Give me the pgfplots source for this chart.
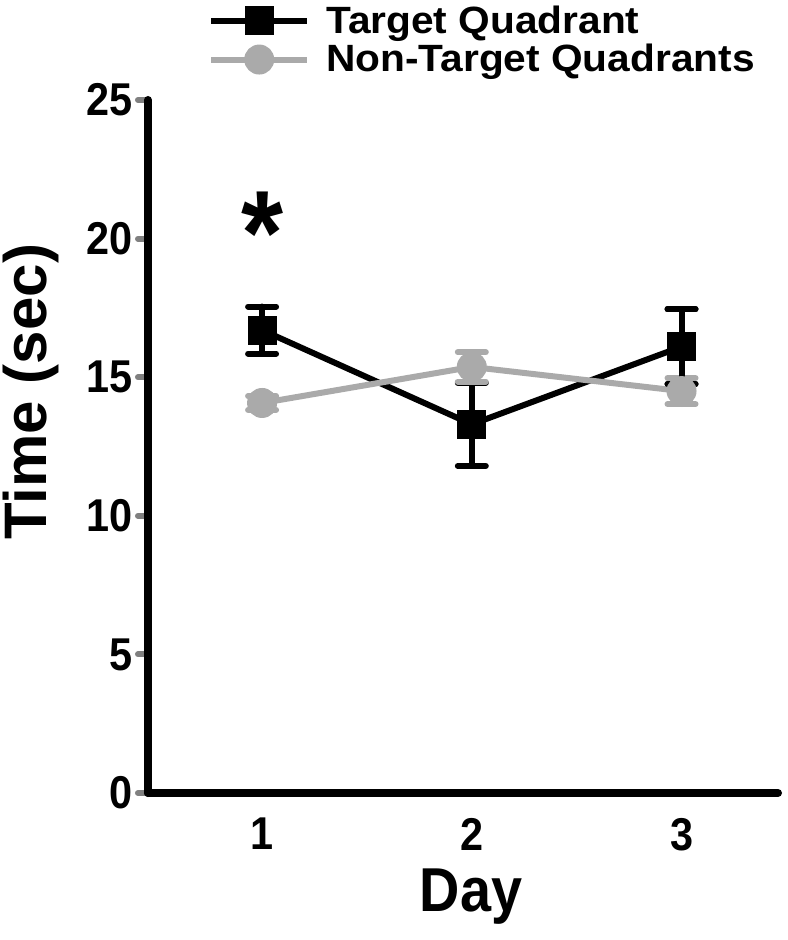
\documentclass[border=0pt]{standalone}
\usepackage{fontspec}
\setmainfont{Liberation Sans}[FakeStretch=0.9]
\newfontfamily\ylabfont{Liberation Sans}
\newfontfamily\legfont{Liberation Sans}[FakeStretch=1.07]
\usepackage{pgfplots}
\pgfplotsset{compat=1.18}
\definecolor{ngray}{RGB}{170,170,170}
\begin{document}
\begin{tikzpicture}
\begin{axis}[
  scale only axis,
  width=315pt, height=346.5pt,
  xmin=0.456, xmax=3.46,
  ymin=0, ymax=25,
  axis x line=bottom, axis y line=left,
  axis line style={-, line width=4pt, line cap=round},
  xtick={1,2,3},
  xtick style={draw=none},
  ytick={0,5,10,15,20,25},
  ytick style={line width=3pt, line cap=round},
  tick align=outside,
  major tick length=5pt,
  /pgf/number format/assume math mode=true,
  ticklabel style={font=\fontsize{23}{23}\selectfont\bfseries},
  yticklabel style={xshift=1pt},
  xticklabel style={yshift=-4pt},
  xlabel={Day},
  xlabel style={font=\fontsize{31}{31}\selectfont\bfseries, xshift=4pt, yshift=-2pt},
  ylabel={Time (sec)},
  ylabel style={font=\fontsize{30}{30}\ylabfont\bfseries, at={(rel axis cs:-0.185,0.579)}, anchor=center},
  clip=false,
  legend style={draw=none, fill=none, at={(rel axis cs:0.095,1.03)}, anchor=south west,
    font=\fontsize{19}{19}\legfont\bfseries, row sep=0pt, inner sep=0pt, cells={anchor=west}},
  legend image code/.code={%
    \draw[mark repeat=2, mark phase=2, #1] plot coordinates {(0pt,0pt) (24pt,0pt) (48pt,0pt)};
    \path (54pt,0pt);},
  legend cell align=left,
]
\addplot[black, line width=3pt, mark=square*, mark size=6.75pt, mark options={solid, line width=1pt},
  error bars/.cd, y dir=both, y explicit,
  error bar style={line width=3pt, line cap=round},
  error mark options={rotate=90, mark size=7pt, line width=3pt, line cap=round}]
  coordinates {(1,16.7) +- (0,0.85) (2,13.3) +- (0,1.5) (3,16.1) +- (0,1.35)};
\addlegendentry{Target Quadrant}
\addplot[ngray, line width=3pt, mark=*, mark size=7pt, mark options={solid, line width=1pt},
  error bars/.cd, y dir=both, y explicit,
  error bar style={line width=3pt, line cap=round},
  error mark options={rotate=90, mark size=7pt, line width=3pt, line cap=round}]
  coordinates {(1,14.07) +- (0,0.25) (2,15.37) +- (0,0.53) (3,14.5) +- (0,0.47)};
\addlegendentry{Non-Target Quadrants}
\addplot[draw=none, forget plot,
  error bars/.cd, y dir=both, y explicit,
  error bar style={black, line width=3pt, line cap=round},
  error mark options={black, rotate=90, mark size=7pt, line width=3pt, line cap=round}]
  coordinates {(3,16.1) +- (0,1.35)};
\node[font=\fontsize{60}{60}\selectfont\bfseries, anchor=center] at (axis cs:1,20.2) {*};
\coordinate (bbl) at (rel axis cs:-0.2349,-0.2121);
\coordinate (btr) at (rel axis cs:1.0143,1.1443);
\end{axis}
\pgfresetboundingbox
\path (bbl) rectangle (btr);
\end{tikzpicture}
\end{document}
